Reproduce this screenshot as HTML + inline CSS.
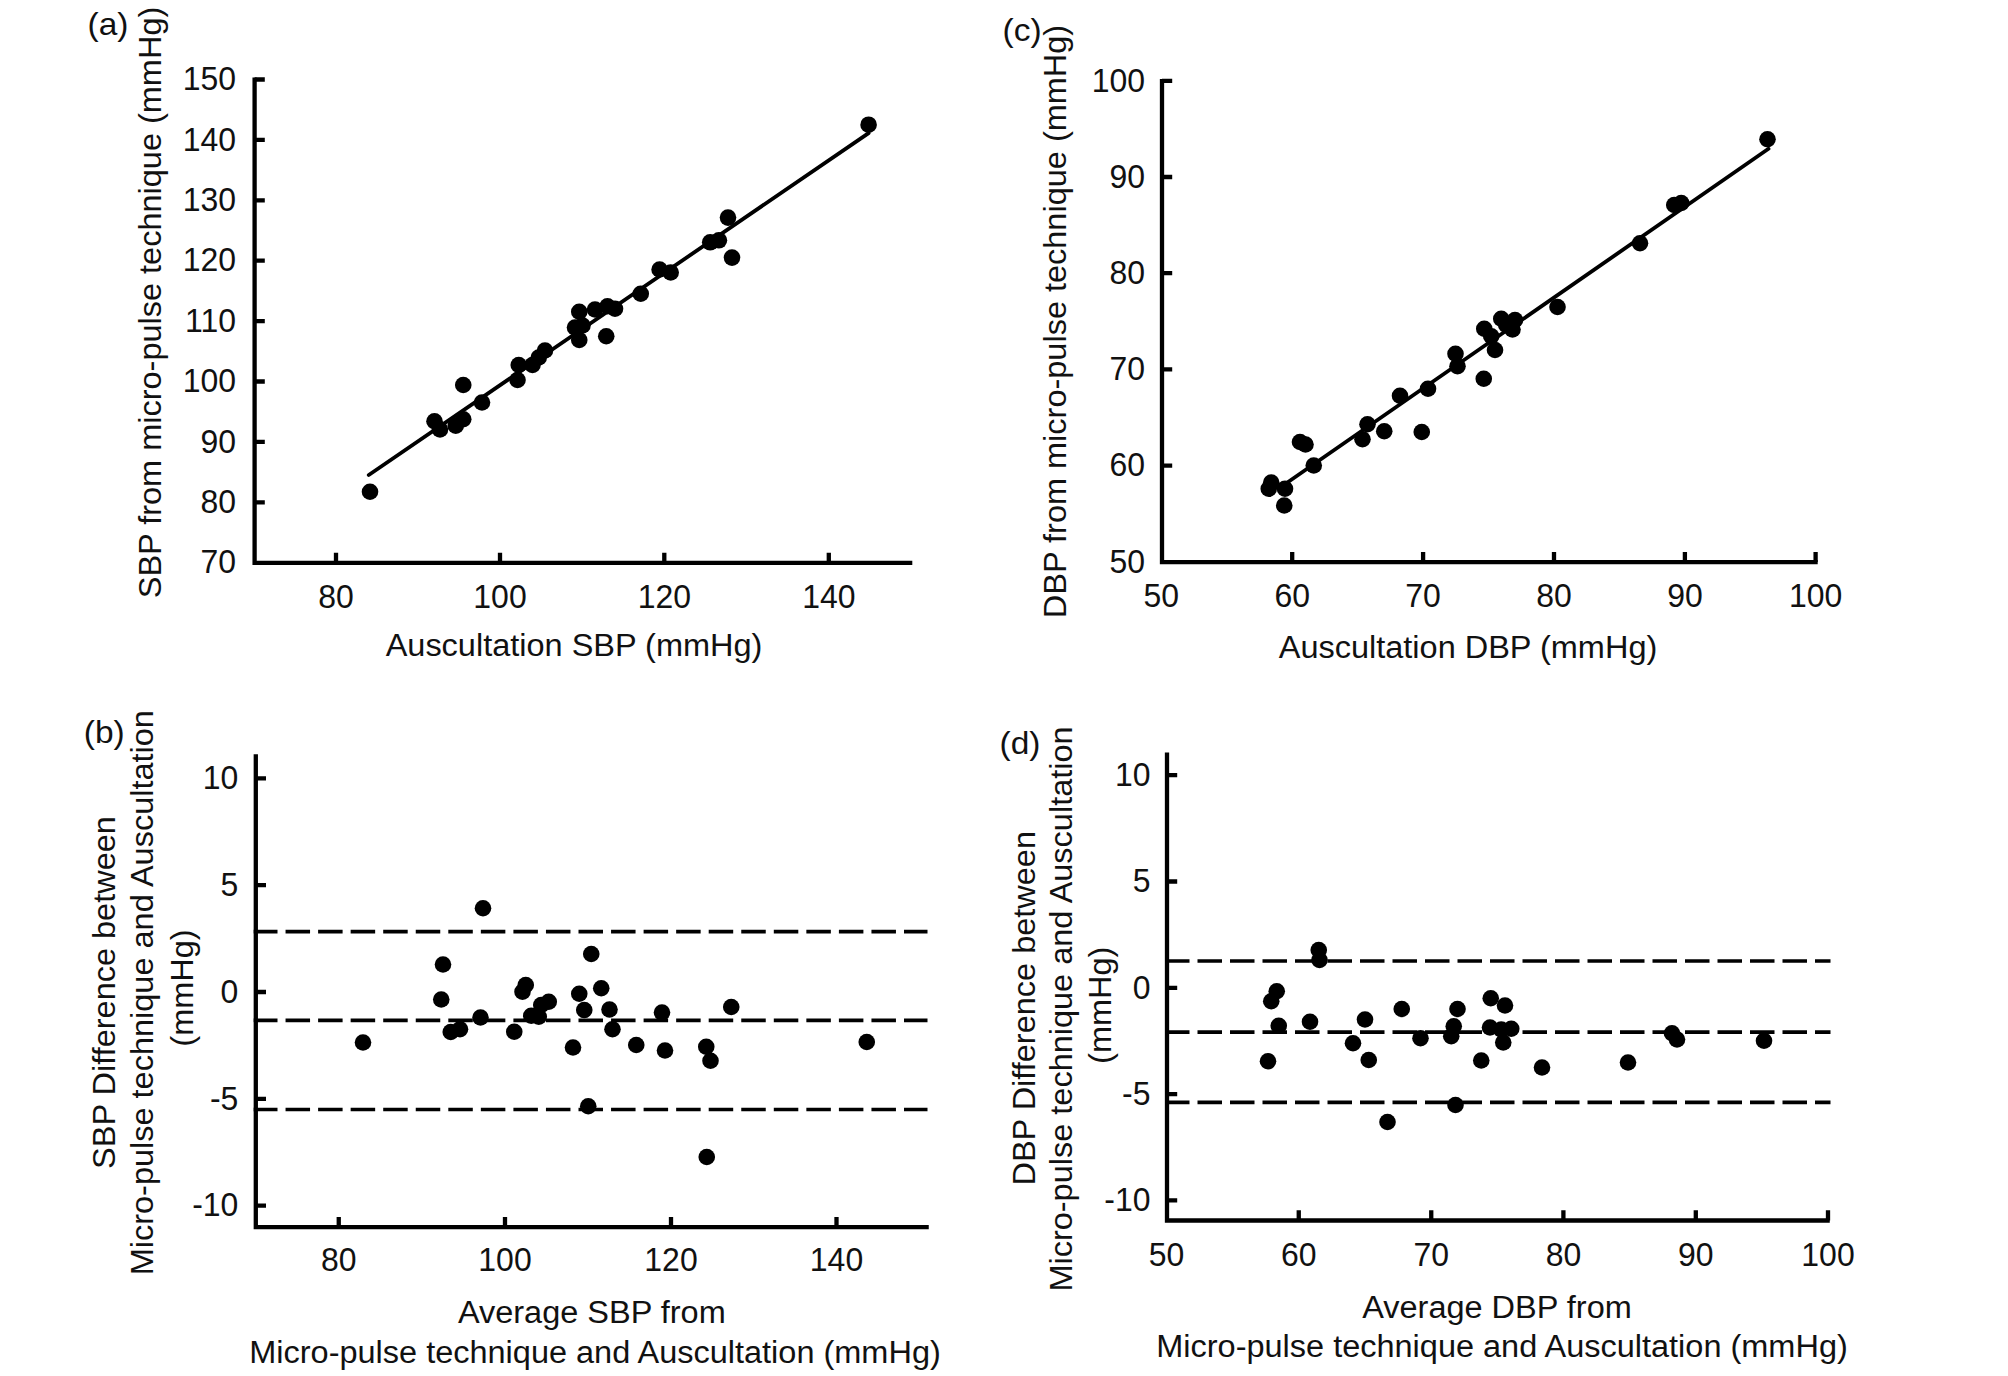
<!DOCTYPE html>
<html lang="en"><head><meta charset="utf-8"><title>Figure</title>
<style>
html,body{margin:0;padding:0;background:#fff;}
svg{display:block;}
text{font-family:"Liberation Sans",sans-serif;font-size:31px;fill:#111;}
</style></head><body>
<svg width="2008" height="1376" viewBox="0 0 2008 1376">
<rect width="2008" height="1376" fill="#fff"/>
<path d="M254.6 77.4V562.9H912.3" fill="none" stroke="#000" stroke-width="4.3" stroke-linejoin="miter"/>
<path d="M254.6 79.5h10.2M254.6 139.9h10.2M254.6 200.3h10.2M254.6 260.7h10.2M254.6 321.1h10.2M254.6 381.5h10.2M254.6 441.9h10.2M254.6 502.3h10.2M336 562.9v-10.2M500 562.9v-10.2M664.3 562.9v-10.2M828.8 562.9v-10.2" fill="none" stroke="#000" stroke-width="4.3"/>

<text transform="translate(236,90.2) scale(0.94,1)" text-anchor="end" style="font-size:34px">150</text>
<text transform="translate(236,150.6) scale(0.94,1)" text-anchor="end" style="font-size:34px">140</text>
<text transform="translate(236,211.0) scale(0.94,1)" text-anchor="end" style="font-size:34px">130</text>
<text transform="translate(236,271.4) scale(0.94,1)" text-anchor="end" style="font-size:34px">120</text>
<text transform="translate(236,331.8) scale(0.94,1)" text-anchor="end" style="font-size:34px">110</text>
<text transform="translate(236,392.2) scale(0.94,1)" text-anchor="end" style="font-size:34px">100</text>
<text transform="translate(236,452.6) scale(0.94,1)" text-anchor="end" style="font-size:34px">90</text>
<text transform="translate(236,513.0) scale(0.94,1)" text-anchor="end" style="font-size:34px">80</text>
<text transform="translate(236,573.4) scale(0.94,1)" text-anchor="end" style="font-size:34px">70</text>
<text transform="translate(336,607.7) scale(0.94,1)" text-anchor="middle" style="font-size:34px">80</text>
<text transform="translate(500,607.7) scale(0.94,1)" text-anchor="middle" style="font-size:34px">100</text>
<text transform="translate(664.3,607.7) scale(0.94,1)" text-anchor="middle" style="font-size:34px">120</text>
<text transform="translate(828.8,607.7) scale(0.94,1)" text-anchor="middle" style="font-size:34px">140</text>
<line x1="368.75" y1="475" x2="868.6" y2="133.1" stroke="#000" stroke-width="3.8" stroke-linecap="round"/>
<circle cx="370.00" cy="491.75" r="8.3"/>
<circle cx="463.25" cy="385.00" r="8.3"/>
<circle cx="482.00" cy="402.50" r="8.3"/>
<circle cx="434.50" cy="421.25" r="8.3"/>
<circle cx="440.00" cy="429.50" r="8.3"/>
<circle cx="455.75" cy="425.75" r="8.3"/>
<circle cx="463.25" cy="419.25" r="8.3"/>
<circle cx="517.50" cy="380.00" r="8.3"/>
<circle cx="518.75" cy="365.00" r="8.3"/>
<circle cx="532.50" cy="365.00" r="8.3"/>
<circle cx="538.75" cy="357.50" r="8.3"/>
<circle cx="545.00" cy="350.50" r="8.3"/>
<circle cx="579.25" cy="340.00" r="8.3"/>
<circle cx="575.00" cy="327.50" r="8.3"/>
<circle cx="582.50" cy="325.50" r="8.3"/>
<circle cx="579.25" cy="311.75" r="8.3"/>
<circle cx="595.00" cy="309.50" r="8.3"/>
<circle cx="607.50" cy="306.25" r="8.3"/>
<circle cx="615.00" cy="308.75" r="8.3"/>
<circle cx="606.25" cy="336.25" r="8.3"/>
<circle cx="640.75" cy="293.75" r="8.3"/>
<circle cx="868.60" cy="124.70" r="8.3"/>
<circle cx="728.00" cy="217.60" r="8.3"/>
<circle cx="732.00" cy="257.60" r="8.3"/>
<circle cx="710.20" cy="242.30" r="8.3"/>
<circle cx="718.90" cy="240.30" r="8.3"/>
<circle cx="659.60" cy="269.50" r="8.3"/>
<circle cx="670.70" cy="272.50" r="8.3"/>
<text transform="translate(574,656) scale(1.048,1)" text-anchor="middle">Auscultation SBP (mmHg)</text>
<text transform="translate(161,302.5) rotate(-90) scale(1.048,1)" text-anchor="middle">SBP from micro-pulse technique (mmHg)</text>
<text transform="translate(87.6,35) scale(1.08,1)">(a)</text>
<path d="M1162 79V562.1H1817.7" fill="none" stroke="#000" stroke-width="4.3" stroke-linejoin="miter"/>
<path d="M1162 80.8h10.2M1162 177.0h10.2M1162 273.2h10.2M1162 369.40000000000003h10.2M1162 465.6h10.2M1292.2 562.1v-10.2M1423.1 562.1v-10.2M1554.0 562.1v-10.2M1684.9 562.1v-10.2M1815.6 562.1v-10.2" fill="none" stroke="#000" stroke-width="4.3"/>

<text transform="translate(1145,91.5) scale(0.94,1)" text-anchor="end" style="font-size:34px">100</text>
<text transform="translate(1145,187.7) scale(0.94,1)" text-anchor="end" style="font-size:34px">90</text>
<text transform="translate(1145,283.9) scale(0.94,1)" text-anchor="end" style="font-size:34px">80</text>
<text transform="translate(1145,380.1) scale(0.94,1)" text-anchor="end" style="font-size:34px">70</text>
<text transform="translate(1145,476.3) scale(0.94,1)" text-anchor="end" style="font-size:34px">60</text>
<text transform="translate(1145,572.5) scale(0.94,1)" text-anchor="end" style="font-size:34px">50</text>
<text transform="translate(1161.3,607) scale(0.94,1)" text-anchor="middle" style="font-size:34px">50</text>
<text transform="translate(1292.2,607) scale(0.94,1)" text-anchor="middle" style="font-size:34px">60</text>
<text transform="translate(1423.1,607) scale(0.94,1)" text-anchor="middle" style="font-size:34px">70</text>
<text transform="translate(1554.0,607) scale(0.94,1)" text-anchor="middle" style="font-size:34px">80</text>
<text transform="translate(1684.9,607) scale(0.94,1)" text-anchor="middle" style="font-size:34px">90</text>
<text transform="translate(1815.6,607) scale(0.94,1)" text-anchor="middle" style="font-size:34px">100</text>
<line x1="1283.75" y1="485" x2="1768.5" y2="148.8" stroke="#000" stroke-width="3.8" stroke-linecap="round"/>
<circle cx="1557.50" cy="307.00" r="8.3"/>
<circle cx="1501.25" cy="318.75" r="8.3"/>
<circle cx="1515.00" cy="320.00" r="8.3"/>
<circle cx="1506.25" cy="325.00" r="8.3"/>
<circle cx="1512.50" cy="329.50" r="8.3"/>
<circle cx="1484.25" cy="328.75" r="8.3"/>
<circle cx="1491.25" cy="336.25" r="8.3"/>
<circle cx="1495.00" cy="350.00" r="8.3"/>
<circle cx="1455.50" cy="353.75" r="8.3"/>
<circle cx="1457.50" cy="366.25" r="8.3"/>
<circle cx="1483.75" cy="378.75" r="8.3"/>
<circle cx="1428.00" cy="388.75" r="8.3"/>
<circle cx="1400.00" cy="395.75" r="8.3"/>
<circle cx="1367.50" cy="424.25" r="8.3"/>
<circle cx="1384.25" cy="431.25" r="8.3"/>
<circle cx="1421.75" cy="432.00" r="8.3"/>
<circle cx="1362.50" cy="439.25" r="8.3"/>
<circle cx="1300.00" cy="442.00" r="8.3"/>
<circle cx="1305.50" cy="444.50" r="8.3"/>
<circle cx="1313.75" cy="465.50" r="8.3"/>
<circle cx="1271.25" cy="482.50" r="8.3"/>
<circle cx="1268.75" cy="488.75" r="8.3"/>
<circle cx="1285.00" cy="488.75" r="8.3"/>
<circle cx="1284.25" cy="505.50" r="8.3"/>
<circle cx="1767.50" cy="139.25" r="8.3"/>
<circle cx="1674.25" cy="205.00" r="8.3"/>
<circle cx="1681.25" cy="203.00" r="8.3"/>
<circle cx="1640.00" cy="243.25" r="8.3"/>
<text transform="translate(1468,658) scale(1.048,1)" text-anchor="middle">Auscultation DBP (mmHg)</text>
<text transform="translate(1066.2,321.5) rotate(-90) scale(1.048,1)" text-anchor="middle">DBP from micro-pulse technique (mmHg)</text>
<text transform="translate(1002.6,40.5) scale(1.08,1)">(c)</text>
<path d="M255.8 754.3V1227.2H928.75" fill="none" stroke="#000" stroke-width="4.3" stroke-linejoin="miter"/>
<path d="M255.8 778.4h10.2M255.8 885.1999999999999h10.2M255.8 992.0h10.2M255.8 1098.8h10.2M255.8 1205.6h10.2M338.75 1227.2v-10.2M505 1227.2v-10.2M671 1227.2v-10.2M836.5 1227.2v-10.2" fill="none" stroke="#000" stroke-width="4.3"/>

<text transform="translate(238.4,789.1) scale(0.94,1)" text-anchor="end" style="font-size:34px">10</text>
<text transform="translate(238.4,895.9) scale(0.94,1)" text-anchor="end" style="font-size:34px">5</text>
<text transform="translate(238.4,1002.7) scale(0.94,1)" text-anchor="end" style="font-size:34px">0</text>
<text transform="translate(238.4,1109.5) scale(0.94,1)" text-anchor="end" style="font-size:34px">-5</text>
<text transform="translate(238.4,1216.3) scale(0.94,1)" text-anchor="end" style="font-size:34px">-10</text>
<text transform="translate(338.75,1271.3) scale(0.94,1)" text-anchor="middle" style="font-size:34px">80</text>
<text transform="translate(505,1271.3) scale(0.94,1)" text-anchor="middle" style="font-size:34px">100</text>
<text transform="translate(671,1271.3) scale(0.94,1)" text-anchor="middle" style="font-size:34px">120</text>
<text transform="translate(836.5,1271.3) scale(0.94,1)" text-anchor="middle" style="font-size:34px">140</text>
<line x1="253.7" y1="931.6" x2="927.5" y2="931.6" stroke="#000" stroke-width="3.7" stroke-dasharray="24.5 8.05" stroke-dashoffset="0.7"/>
<line x1="253.7" y1="1020.3" x2="927.5" y2="1020.3" stroke="#000" stroke-width="3.7" stroke-dasharray="24.5 8.05" stroke-dashoffset="0.7"/>
<line x1="253.7" y1="1109.5" x2="927.5" y2="1109.5" stroke="#000" stroke-width="3.7" stroke-dasharray="24.5 8.05" stroke-dashoffset="0.7"/>
<circle cx="483.00" cy="908.25" r="8.3"/>
<circle cx="443.00" cy="964.50" r="8.3"/>
<circle cx="441.25" cy="999.50" r="8.3"/>
<circle cx="591.25" cy="954.00" r="8.3"/>
<circle cx="525.75" cy="985.00" r="8.3"/>
<circle cx="522.50" cy="991.75" r="8.3"/>
<circle cx="579.25" cy="993.75" r="8.3"/>
<circle cx="601.25" cy="988.25" r="8.3"/>
<circle cx="548.75" cy="1001.75" r="8.3"/>
<circle cx="541.25" cy="1005.00" r="8.3"/>
<circle cx="531.25" cy="1015.75" r="8.3"/>
<circle cx="538.75" cy="1016.75" r="8.3"/>
<circle cx="584.25" cy="1010.00" r="8.3"/>
<circle cx="609.50" cy="1009.50" r="8.3"/>
<circle cx="662.00" cy="1012.50" r="8.3"/>
<circle cx="731.25" cy="1007.00" r="8.3"/>
<circle cx="480.50" cy="1017.50" r="8.3"/>
<circle cx="460.00" cy="1029.25" r="8.3"/>
<circle cx="450.75" cy="1032.00" r="8.3"/>
<circle cx="514.25" cy="1031.75" r="8.3"/>
<circle cx="612.50" cy="1029.25" r="8.3"/>
<circle cx="363.00" cy="1042.50" r="8.3"/>
<circle cx="573.00" cy="1047.50" r="8.3"/>
<circle cx="636.25" cy="1045.00" r="8.3"/>
<circle cx="665.00" cy="1050.50" r="8.3"/>
<circle cx="706.25" cy="1046.75" r="8.3"/>
<circle cx="710.50" cy="1060.75" r="8.3"/>
<circle cx="588.25" cy="1106.25" r="8.3"/>
<circle cx="706.75" cy="1157.00" r="8.3"/>
<circle cx="866.75" cy="1042.00" r="8.3"/>
<text transform="translate(591.8,1323.4) scale(1.048,1)" text-anchor="middle">Average SBP from</text>
<text transform="translate(595,1362.6) scale(1.048,1)" text-anchor="middle">Micro-pulse technique and Auscultation (mmHg)</text>
<text transform="translate(115,992.5) rotate(-90) scale(1.048,1)" text-anchor="middle">SBP Difference between</text>
<text transform="translate(153.4,992.7) rotate(-90) scale(1.048,1)" text-anchor="middle">Micro-pulse technique and Auscultation</text>
<text transform="translate(192.5,988) rotate(-90) scale(1.048,1)" text-anchor="middle">(mmHg)</text>
<text transform="translate(83.8,742.7) scale(1.08,1)">(b)</text>
<path d="M1167 752.5V1220.5H1829.75" fill="none" stroke="#000" stroke-width="4.3" stroke-linejoin="miter"/>
<path d="M1167 775.2h10.2M1167 881.5h10.2M1167 987.8000000000001h10.2M1167 1094.1h10.2M1167 1200.4h10.2M1298.75 1220.5v-10.2M1431.25 1220.5v-10.2M1563.4 1220.5v-10.2M1695.8 1220.5v-10.2M1828 1220.5v-10.2" fill="none" stroke="#000" stroke-width="4.3"/>

<text transform="translate(1150.5,785.9) scale(0.94,1)" text-anchor="end" style="font-size:34px">10</text>
<text transform="translate(1150.5,892.2) scale(0.94,1)" text-anchor="end" style="font-size:34px">5</text>
<text transform="translate(1150.5,998.5) scale(0.94,1)" text-anchor="end" style="font-size:34px">0</text>
<text transform="translate(1150.5,1104.8) scale(0.94,1)" text-anchor="end" style="font-size:34px">-5</text>
<text transform="translate(1150.5,1211.1) scale(0.94,1)" text-anchor="end" style="font-size:34px">-10</text>
<text transform="translate(1166.4,1265.7) scale(0.94,1)" text-anchor="middle" style="font-size:34px">50</text>
<text transform="translate(1298.75,1265.7) scale(0.94,1)" text-anchor="middle" style="font-size:34px">60</text>
<text transform="translate(1431.25,1265.7) scale(0.94,1)" text-anchor="middle" style="font-size:34px">70</text>
<text transform="translate(1563.4,1265.7) scale(0.94,1)" text-anchor="middle" style="font-size:34px">80</text>
<text transform="translate(1695.8,1265.7) scale(0.94,1)" text-anchor="middle" style="font-size:34px">90</text>
<text transform="translate(1828,1265.7) scale(0.94,1)" text-anchor="middle" style="font-size:34px">100</text>
<line x1="1165" y1="961" x2="1830.5" y2="961" stroke="#000" stroke-width="3.7" stroke-dasharray="24.5 8"/>
<line x1="1165" y1="1032.1" x2="1830.5" y2="1032.1" stroke="#000" stroke-width="3.7" stroke-dasharray="24.5 8"/>
<line x1="1165" y1="1102.4" x2="1830.5" y2="1102.4" stroke="#000" stroke-width="3.7" stroke-dasharray="24.5 8"/>
<circle cx="1318.75" cy="950.00" r="8.3"/>
<circle cx="1319.50" cy="960.00" r="8.3"/>
<circle cx="1276.75" cy="991.25" r="8.3"/>
<circle cx="1271.25" cy="1001.25" r="8.3"/>
<circle cx="1490.75" cy="998.25" r="8.3"/>
<circle cx="1505.00" cy="1005.50" r="8.3"/>
<circle cx="1401.75" cy="1009.00" r="8.3"/>
<circle cx="1457.50" cy="1009.00" r="8.3"/>
<circle cx="1365.00" cy="1019.50" r="8.3"/>
<circle cx="1310.00" cy="1021.75" r="8.3"/>
<circle cx="1278.75" cy="1025.75" r="8.3"/>
<circle cx="1453.75" cy="1026.25" r="8.3"/>
<circle cx="1490.00" cy="1027.50" r="8.3"/>
<circle cx="1501.25" cy="1029.50" r="8.3"/>
<circle cx="1511.25" cy="1028.75" r="8.3"/>
<circle cx="1451.25" cy="1036.25" r="8.3"/>
<circle cx="1420.50" cy="1038.25" r="8.3"/>
<circle cx="1503.25" cy="1042.50" r="8.3"/>
<circle cx="1353.00" cy="1043.25" r="8.3"/>
<circle cx="1672.00" cy="1033.25" r="8.3"/>
<circle cx="1677.00" cy="1039.50" r="8.3"/>
<circle cx="1268.00" cy="1061.25" r="8.3"/>
<circle cx="1368.75" cy="1060.00" r="8.3"/>
<circle cx="1481.25" cy="1060.50" r="8.3"/>
<circle cx="1542.00" cy="1067.50" r="8.3"/>
<circle cx="1628.00" cy="1062.50" r="8.3"/>
<circle cx="1455.50" cy="1105.00" r="8.3"/>
<circle cx="1387.50" cy="1122.00" r="8.3"/>
<circle cx="1764.00" cy="1040.75" r="8.3"/>
<text transform="translate(1497,1318) scale(1.048,1)" text-anchor="middle">Average DBP from</text>
<text transform="translate(1502,1357) scale(1.048,1)" text-anchor="middle">Micro-pulse technique and Auscultation (mmHg)</text>
<text transform="translate(1034.8,1008.3) rotate(-90) scale(1.048,1)" text-anchor="middle">DBP Difference between</text>
<text transform="translate(1072.3,1009) rotate(-90) scale(1.048,1)" text-anchor="middle">Micro-pulse technique and Auscultation</text>
<text transform="translate(1111.3,1005.3) rotate(-90) scale(1.048,1)" text-anchor="middle">(mmHg)</text>
<text transform="translate(999.6,754) scale(1.08,1)">(d)</text>
</svg>
</body></html>
